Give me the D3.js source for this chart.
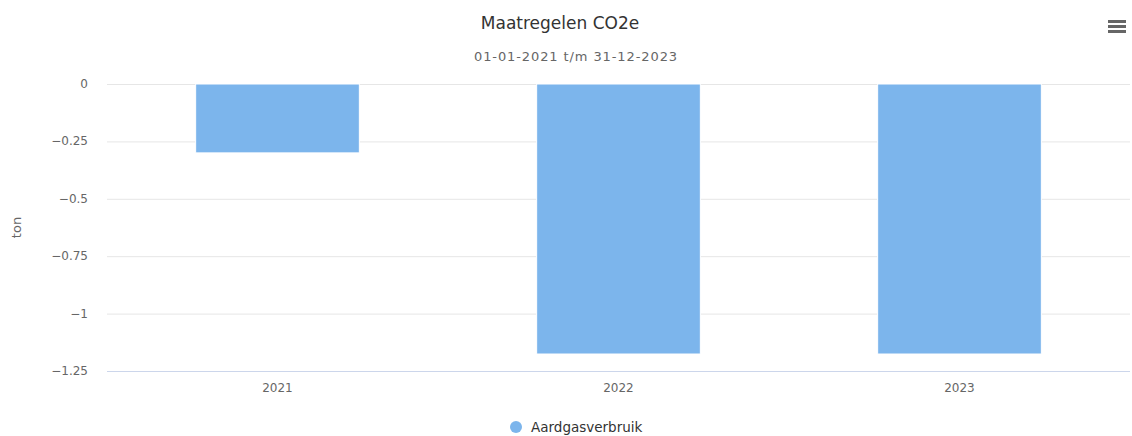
<!DOCTYPE html>
<html>
<head>
<meta charset="utf-8">
<script src="https://cdn.jsdelivr.net/npm/d3@7"></script>
<style>
  body { margin: 0; background: #fff; }
  svg { font-family: "DejaVu Sans", sans-serif; }
</style>
</head>
<body>
<div id="chart"></div>
<script>
// chart data
const categories = ['2021', '2022', '2023'];
const values = [-0.3, -1.176, -1.176];
const yTicks = [0, -0.25, -0.5, -0.75, -1, -1.25];
const seriesName = 'Aardgasverbruik';

const width = 1132, height = 436;
const margin = { top: 84, right: 2, bottom: 65, left: 107 };

const svg = d3.select('#chart').append('svg')
    .attr('width', width)
    .attr('height', height);

// title + subtitle
svg.append('text')
    .attr('x', 560).attr('y', 29)
    .attr('text-anchor', 'middle')
    .style('font-size', '17px')
    .style('fill', '#333')
    .text('Maatregelen CO2e');

svg.append('text')
    .attr('x', 576).attr('y', 61)
    .attr('text-anchor', 'middle')
    .style('font-size', '13px')
    .style('letter-spacing', '0.9px')
    .style('fill', '#666')
    .text('01-01-2021 t/m 31-12-2023');

// scales
const x = d3.scaleBand()
    .domain(categories)
    .range([margin.left, width - margin.right]);

const y = d3.scaleLinear()
    .domain([-1.25, 0])
    .range([height - margin.bottom, margin.top]);

// grid lines
svg.append('g')
    .selectAll('line')
    .data(yTicks.slice(0, -1))
    .enter().append('line')
    .attr('x1', margin.left).attr('x2', width - margin.right)
    .attr('y1', d => y(d) + 0.5).attr('y2', d => y(d) + 0.5)
    .attr('stroke', '#e6e6e6');

// y labels
const fmt = d => d === 0 ? '0' : '\u2212' + Math.abs(d);
svg.append('g')
    .selectAll('text')
    .data(yTicks)
    .enter().append('text')
    .attr('x', 88)
    .attr('y', d => y(d) + 4)
    .attr('text-anchor', 'end')
    .style('font-size', '12px')
    .style('fill', '#666')
    .text(fmt);

// y axis title
svg.append('text')
    .attr('transform', `translate(21, ${(y(0) + y(-1.25)) / 2}) rotate(-90)`)
    .attr('text-anchor', 'middle')
    .style('font-size', '13px')
    .style('fill', '#666')
    .text('ton');

// bars
const barW = x.bandwidth() * 0.48;
svg.append('g')
    .selectAll('rect')
    .data(values)
    .enter().append('rect')
    .attr('x', (d, i) => x(categories[i]) + (x.bandwidth() - barW) / 2)
    .attr('y', y(0))
    .attr('width', barW)
    .attr('height', d => y(d) - y(0))
    .attr('fill', '#7cb5ec')
    .attr('stroke', '#fff')
    .attr('stroke-width', 1);

// x axis line
svg.append('line')
    .attr('x1', margin.left).attr('x2', width - margin.right)
    .attr('y1', y(-1.25) + 0.5).attr('y2', y(-1.25) + 0.5)
    .attr('stroke', '#ccd6eb');

// x labels
svg.append('g')
    .selectAll('text')
    .data(categories)
    .enter().append('text')
    .attr('x', d => x(d) + x.bandwidth() / 2)
    .attr('y', 392)
    .attr('text-anchor', 'middle')
    .style('font-size', '12px')
    .style('fill', '#666')
    .text(d => d);

// legend
const legend = svg.append('g').attr('transform', 'translate(516, 427)');
legend.append('circle').attr('r', 6).attr('fill', '#7cb5ec');
legend.append('text')
    .attr('x', 15).attr('y', 5)
    .style('font-size', '13.5px')
    .style('fill', '#333')
    .text(seriesName);

// menu icon
const menu = svg.append('g').attr('transform', 'translate(1108, 20)');
[0, 5, 10].forEach(dy => {
    menu.append('rect')
        .attr('x', 0).attr('y', dy)
        .attr('width', 18).attr('height', 3)
        .attr('fill', '#666');
});
</script>
</body>
</html>
